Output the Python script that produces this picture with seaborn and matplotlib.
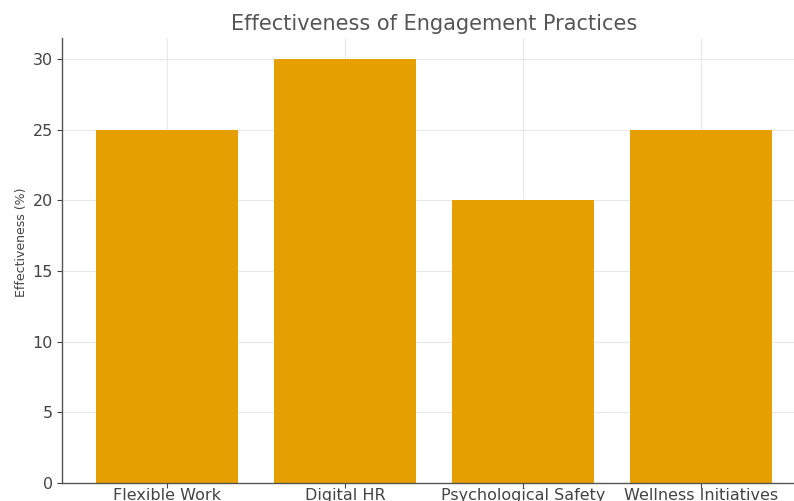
import matplotlib
matplotlib.use("Agg")
import matplotlib.pyplot as plt
import seaborn as sns
import pandas as pd

practices = ["Flexible Work", "Digital HR", "Psychological Safety", "Wellness Initiatives"]
effectiveness = [25, 30, 20, 25]

sns.set_theme(style="whitegrid")
plt.rcParams["font.family"] = ["DejaVu Sans"]

df = pd.DataFrame({"Practice": practices, "Effectiveness": effectiveness})

fig = plt.figure(figsize=(7.94, 5.01), dpi=100)
ax = fig.add_axes([62 / 794, 18 / 501, 744 / 794, 445 / 501])

sns.barplot(data=df, x="Practice", y="Effectiveness", color="#E69F00",
            saturation=1, width=0.8, linewidth=0, ax=ax)

ax.set_xlim(-0.59, 3.59)
ax.set_ylim(0, 31.5)
ax.set_title("Effectiveness of Engagement Practices", fontsize=15, color="#555555", pad=6)
ax.set_ylabel("Effectiveness (%)", fontsize=9, color="#444444")
ax.yaxis.set_label_coords(-0.046, 0.54)
ax.set_xlabel("")
ax.grid(True, color="#e8e8e8", linewidth=0.8)
ax.set_axisbelow(True)
for side in ("top", "right"):
    ax.spines[side].set_visible(False)
for side in ("left", "bottom"):
    ax.spines[side].set_color("#555555")
    ax.spines[side].set_linewidth(1.0)
ax.tick_params(axis="both", labelsize=11.5, colors="#444444", length=3.5, width=0.8,
               left=True, bottom=True)
ax.tick_params(axis="x", pad=0)
ax.tick_params(axis="y", pad=3)

fig.savefig("out.png", dpi=100)
